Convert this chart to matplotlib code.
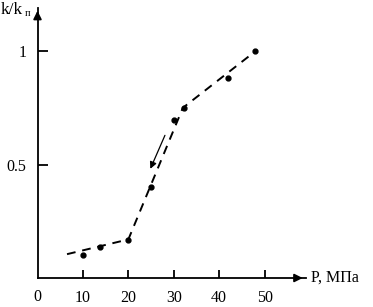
import matplotlib.pyplot as plt

plt.rcParams['font.family'] = ['Liberation Serif', 'DejaVu Serif']

# measured points
p_pts = [10.1, 13.8, 20.0, 24.9, 30.0, 32.3, 42.0, 47.8]
k_pts = [0.10, 0.137, 0.168, 0.40, 0.695, 0.75, 0.88, 1.0]

# dashed trend line
p_line = [6.5, 20.0, 32.0, 48.0]
k_line = [0.105, 0.17, 0.75, 1.0]

x_ticks = [10, 20, 30, 40, 50]
y_ticks = [0.5, 1]
y_labels = ['0.5', '1']

fig = plt.figure(figsize=(3.73, 3.07), dpi=100)
ax = fig.add_axes([37.5 / 373, 29 / 307, 268 / 373, 270 / 307])
ax.set_xlim(0, 59)
ax.set_ylim(0, 1.19)

ax.plot(p_line, k_line, color='black', lw=1.4, ls=(0, (4.5, 3.5)))
ax.plot(p_pts, k_pts, 'o', color='black', ms=3.5)

# direction arrow
ax.annotate('', xy=(24.6, 0.47), xytext=(28.3, 0.64),
            arrowprops=dict(arrowstyle='-|>', color='black', lw=0.9,
                            mutation_scale=10))

for s in ['top', 'right']:
    ax.spines[s].set_visible(False)
for s in ['left', 'bottom']:
    ax.spines[s].set_linewidth(1.3)

# axis arrows
ax.annotate('', xy=(1, 0), xycoords='axes fraction', xytext=(0.95, 0),
            arrowprops=dict(arrowstyle='-|>', color='black', lw=1.3,
                            mutation_scale=12))
ax.annotate('', xy=(0, 1), xycoords='axes fraction', xytext=(0, 0.95),
            arrowprops=dict(arrowstyle='-|>', color='black', lw=1.3,
                            mutation_scale=12))

ax.set_xticks(x_ticks)
ax.set_xticklabels([str(t) for t in x_ticks])
ax.set_yticks(y_ticks)
ax.set_yticklabels(y_labels)
ax.tick_params(axis='x', direction='in', length=6, width=1.3, pad=9,
               labelsize=11.5)
ax.tick_params(axis='y', direction='in', length=7, width=1.3, pad=8,
               labelsize=11.5)

ax.text(0, -0.072, '0', ha='center', va='center', fontsize=11.5,
        transform=ax.get_xaxis_transform())
ax.text(1.02, 0, 'P, МПа', ha='left', va='center', fontsize=11.5,
        transform=ax.transAxes)
fig.text(1 / 373, 1 - 10 / 307, 'k/k', ha='left', va='center', fontsize=12.5)
fig.text(25 / 373, 1 - 14 / 307, 'п', ha='left', va='center', fontsize=7.5)

fig.savefig('out.png', dpi=100)
